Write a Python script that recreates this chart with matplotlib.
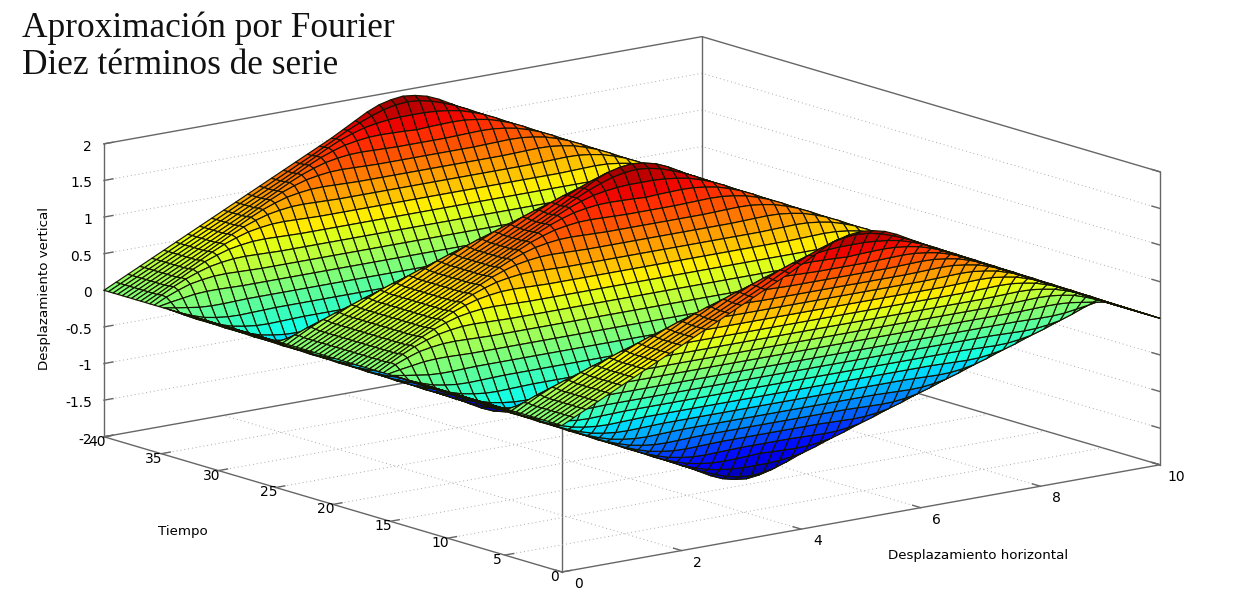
import numpy as np
import matplotlib
matplotlib.use('Agg')
import matplotlib.pyplot as plt
from mpl_toolkits.mplot3d import proj3d

# heights, x = 0, 0.2 ... 5, one list per time step
z_t00 = [0, .08, .16, .24, .32, .40, .48, .56, .64, .72, .80, .88, .96, 1.04, 1.12, 1.20, 1.28, 1.36, 1.44, 1.52, 1.61, 1.70, 1.79, 1.86, 1.90, 1.92]
z_t04 = [0, .08, .16, .24, .32, .40, .48, .56, .64, .72, .80, .88, .96, 1.04, 1.12, 1.20, 1.28, 1.36, 1.445, 1.53, 1.615, 1.69, 1.755, 1.81, 1.845, 1.86]
z_t08 = [0, .08, .16, .24, .32, .40, .48, .56, .64, .72, .80, .88, .96, 1.04, 1.12, 1.20, 1.285, 1.37, 1.455, 1.53, 1.59, 1.64, 1.67, 1.69, 1.70, 1.70]
z_t12 = [0, .08, .16, .24, .32, .40, .48, .56, .64, .72, .80, .88, .96, 1.04, 1.125, 1.21, 1.295, 1.37, 1.43, 1.48, 1.51, 1.53, 1.535, 1.53, 1.525, 1.515]
z_t16 = [0, .08, .16, .24, .32, .40, .48, .56, .64, .72, .80, .88, .965, 1.05, 1.135, 1.21, 1.27, 1.32, 1.35, 1.37, 1.375, 1.37, 1.365, 1.36, 1.36, 1.36]
z_t20 = [0, .08, .16, .24, .32, .40, .48, .56, .64, .72, .805, .89, .975, 1.05, 1.11, 1.16, 1.19, 1.21, 1.215, 1.21, 1.205, 1.20, 1.20, 1.20, 1.20, 1.20]
z_t24 = [0, .08, .16, .24, .32, .40, .48, .56, .645, .73, .815, .89, .95, 1.00, 1.03, 1.05, 1.055, 1.05, 1.045, 1.04, 1.04, 1.04, 1.04, 1.04, 1.04, 1.04]
z_t28 = [0, .08, .16, .24, .32, .40, .485, .57, .655, .73, .79, .84, .87, .89, .895, .89, .885, .88, .88, .88, .88, .88, .88, .88, .88, .88]
z_t32 = [0, .08, .16, .24, .325, .41, .495, .57, .63, .68, .71, .73, .735, .73, .725, .72, .72, .72, .72, .72, .72, .72, .72, .72, .72, .72]
z_t36 = [0, .08, .165, .25, .335, .41, .47, .52, .55, .57, .575, .57, .565, .56, .56, .56, .56, .56, .56, .56, .56, .56, .56, .56, .56, .56]
z_t40 = [0, .09, .175, .25, .31, .36, .39, .41, .415, .41, .405, .40, .40, .40, .40, .40, .40, .40, .40, .40, .40, .40, .40, .40, .40, .40]
z_t44 = [0, .08, .145, .20, .23, .25, .255, .25, .245, .24, .24, .24, .24, .24, .24, .24, .24, .24, .24, .24, .24, .24, .24, .24, .24, .24]
z_t48 = [0, .03, .055, .08, .09, .09, .085, .08, .08, .08, .08, .08, .08, .08, .08, .08, .08, .08, .08, .08, .08, .08, .08, .08, .08, .08]

x_ticks = [0, 2, 4, 6, 8, 10]
t_ticks = [0, 5, 10, 15, 20, 25, 30, 35, 40]
z_ticks = [-2, -1.5, -1, -0.5, 0, 0.5, 1, 1.5, 2]

W, H = 1247, 603
# where the box corners sit in the reference, in pixels from the top left
PX_FRONT = np.array([562, 572])
PX_RIGHT = np.array([1160, 465])

# the picture repeats: mirror in x about 5, flip sign about t=5, period 20 in t
quarter = np.array([z_t00, z_t04, z_t08, z_t12, z_t16, z_t20, z_t24,
                    z_t28, z_t32, z_t36, z_t40, z_t44, z_t48])
half_x = np.hstack([quarter, quarter[:, -2::-1]])
half_t = np.vstack([half_x, -half_x[::-1]])
period = np.vstack([half_t, half_t[-2::-1]])
Z = np.vstack([period, period[1:]])
x = np.linspace(0, 10, Z.shape[1])
t = np.linspace(0, 40, Z.shape[0])
X, T = np.meshgrid(x, t)

fig = plt.figure(figsize=(W / 100, H / 100), dpi=100)
ax = fig.add_axes([0, 0, 1, 1], projection='3d', computed_zorder=False)
ax.set_proj_type('ortho')
ax.view_init(elev=13.3, azim=-127.93)
ax.set_axis_off()

frame = dict(color='#666666', lw=1.0, zorder=1)
grid = dict(color='#aaaaaa', lw=0.7, ls=(0, (1, 3)), zorder=1)

# box
ax.plot([0, 10, 10, 0], [40, 40, 0, 0], [-2, -2, -2, -2], **frame)
ax.plot([0, 0], [0, 40], [-2, -2], **frame)
ax.plot([0, 10, 10], [40, 40, 0], [2, 2, 2], **frame)
ax.plot([0, 0], [40, 40], [-2, 2], **frame)
ax.plot([10, 10], [40, 40], [-2, 2], **frame)
ax.plot([10, 10], [0, 0], [-2, 2], **frame)
ax.plot([0, 0], [0, 0], [-2, 0], **frame)

# grids and ticks
for v in z_ticks[1:-1]:
    ax.plot([0, 10, 10], [40, 40, 0], [v, v, v], **grid)
for v in x_ticks[1:-1]:
    ax.plot([v, v], [0, 40], [-2, -2], **grid)
for v in t_ticks[1:-1]:
    ax.plot([0, 10], [v, v], [-2, -2], **grid)
for v in z_ticks:
    ax.plot([0, 0.15], [40, 40], [v, v], **frame)
    ax.plot([10, 10], [0, 0.7], [v, v], **frame)
for v in x_ticks:
    ax.plot([v, v], [0, 0.7], [-2, -2], **frame)
for v in t_ticks:
    ax.plot([0, 0.15], [v, v], [-2, -2], **frame)

ax.plot_surface(X, T, Z, cmap='jet', vmin=-2, vmax=2, rstride=1, cstride=1,
                edgecolor='#141400', linewidth=0.85, shade=False, zorder=2)

ax.set_xlim(0, 10)
ax.set_ylim(0, 40)
ax.set_zlim(-2, 2)

# the axes stay square, so nothing may be cut at their edge
for artist in ax.lines + list(ax.collections):
    artist.set_clip_on(False)


def to_pixels(px, py, pz):
    u, v, _ = proj3d.proj_transform(px, py, pz, ax.get_proj())
    a, b = ax.transData.transform((u, v))
    return np.array([a, H - b])


def label_at(point, text, ha):
    a, b = to_pixels(*point)
    fig.text(a / W, 1 - b / H, text, ha=ha, va='center', fontsize=10)


# fit the box on the corners of the reference
zoom = 1.0
ax.set_box_aspect((758, 745, 301), zoom=zoom)
fig.canvas.draw()
now = np.linalg.norm(to_pixels(10, 0, -2) - to_pixels(0, 0, -2))
zoom = zoom * np.linalg.norm(PX_RIGHT - PX_FRONT) / now
ax.set_box_aspect((758, 745, 301), zoom=zoom)
fig.canvas.draw()
dx, dy = PX_FRONT - to_pixels(0, 0, -2)
ax.set_position([dx / W, -dy / H, 1, 1])
fig.canvas.draw()

for v in z_ticks:
    label_at((-0.2, 40, v - 0.01), '%g' % v, 'right')
for v in x_ticks:
    label_at((v, -1.4, -2.1), '%g' % v, 'center')
for v in t_ticks:
    label_at((-0.12, v, -2.05), '%g' % v, 'center')

fig.text(22 / W, 1 - 37 / H, 'Aproximación por Fourier', family='Liberation Serif',
         fontsize=25.4, va='baseline', color='#111111')
fig.text(22 / W, 1 - 74 / H, 'Diez términos de serie', family='Liberation Serif',
         fontsize=25.4, va='baseline', color='#111111')
fig.text(183 / W, 1 - 532 / H, 'Tiempo', fontsize=9.6, ha='center', va='center')
fig.text(978 / W, 1 - 556 / H, 'Desplazamiento horizontal', fontsize=9.6, ha='center', va='center')
fig.text(45 / W, 1 - 288 / H, 'Desplazamiento vertical', fontsize=9.6, rotation=90,
         ha='center', va='center')

fig.savefig('out.png', dpi=100)
